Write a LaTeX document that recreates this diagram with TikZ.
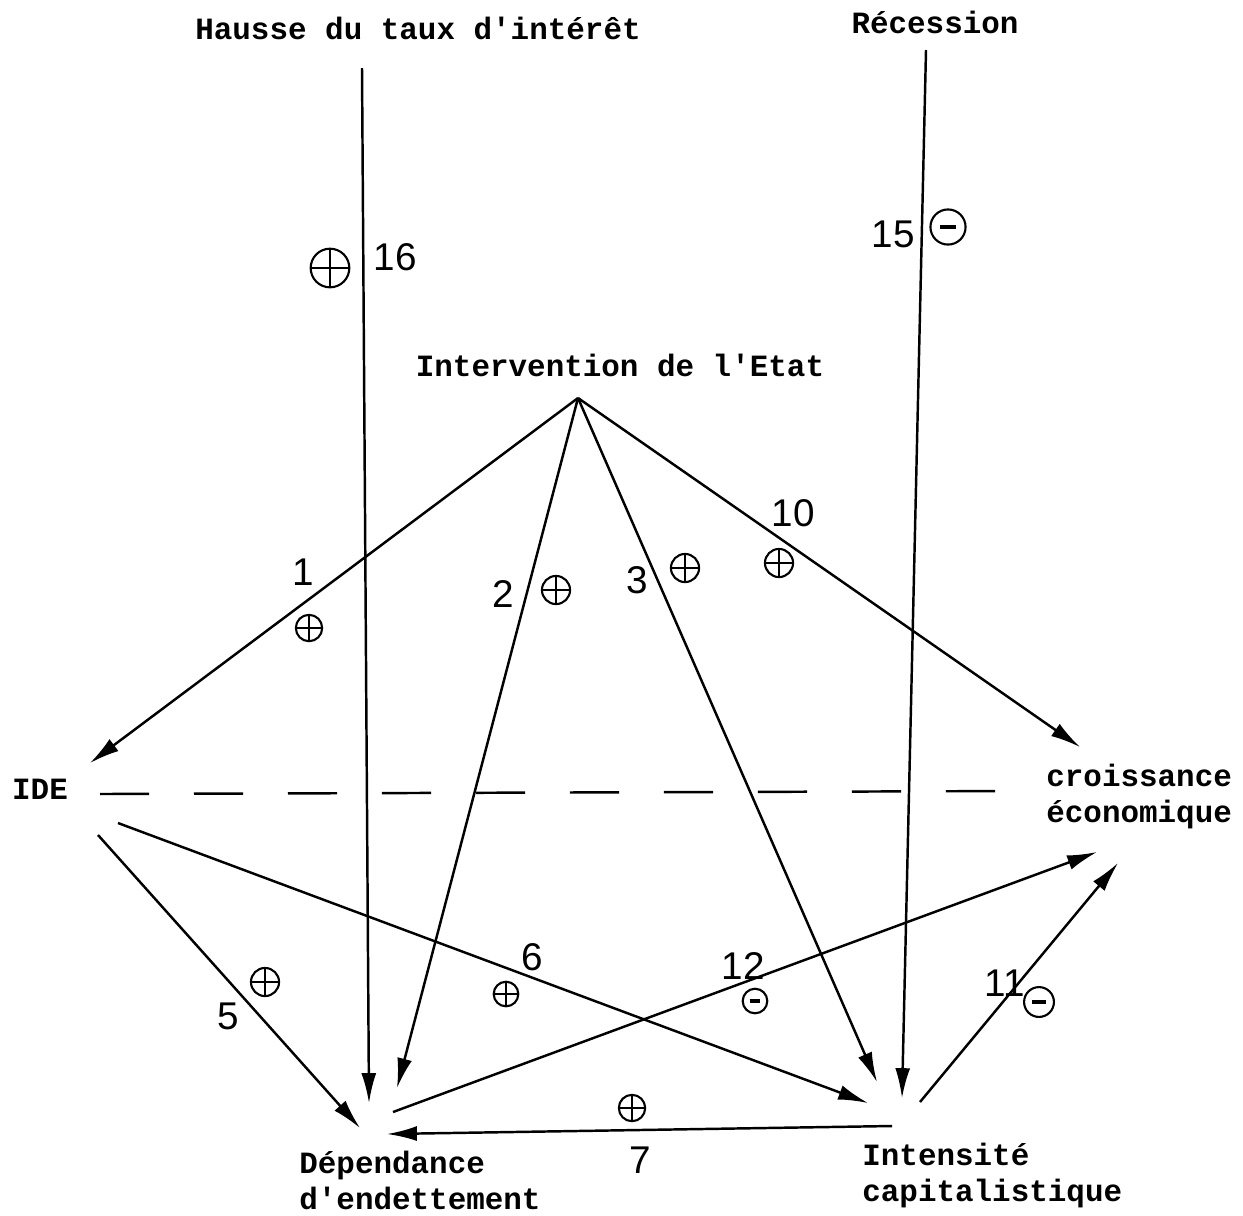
\documentclass[tikz,border=0pt]{standalone}
\usepackage{fontspec}
\newfontfamily\tw{Liberation Mono}
\newfontfamily\hw{Liberation Sans}
\usetikzlibrary{arrows.meta,calc}
\begin{document}
\begin{tikzpicture}[x=0.02cm,y=-0.02cm,
  lbl/.style={font=\tw\bfseries\fontsize{17.6}{20.5}\selectfont, inner sep=0pt},
  hand/.style={font=\hw\fontsize{22}{24}\selectfont, inner sep=0pt},
  arr/.style={line width=1.4pt, -{Latex[length=17pt,width=8.5pt]}},
  ln/.style={line width=1.4pt},
  plus/.style={circle, draw, line width=1.2pt, minimum size=#1, inner sep=0pt,
    path picture={\draw[line width=1.2pt]
      (path picture bounding box.north) -- (path picture bounding box.south)
      (path picture bounding box.west) -- (path picture bounding box.east);}},
  minus/.style={circle, draw, line width=1.2pt, minimum size=#1, inner sep=0pt,
    path picture={\draw[line width=2.2pt]
      ($(path picture bounding box.west)!0.28!(path picture bounding box.east)$) --
      ($(path picture bounding box.west)!0.72!(path picture bounding box.east)$);}}
]
\useasboundingbox (0,0) rectangle (1243,1215);

% text nodes
\node[lbl] (hausse) at (418,28) {Hausse du taux d\textquotesingle intérêt};
\node[lbl] (recession) at (935,22) {Récession};
\node[lbl] (etatlbl) at (620,365) {Intervention de l\textquotesingle Etat};
\node[lbl] (ide) at (40,789) {IDE};
\node[lbl, align=left, anchor=west] (croiss) at (1046,796) {croissance\\économique};
\node[lbl, align=left, anchor=west] (dep) at (299,1180) {Dépendance\\d\textquotesingle endettement};
\node[lbl, align=left, anchor=west] (intens) at (862,1175) {Intensité\\capitalistique};

% connector end points
\coordinate (etat) at (578,398);
\coordinate (top16) at (362,68);
\coordinate (top15) at (926,50);
\coordinate (ideIn) at (90,763);
\coordinate (ideOut5) at (98,835);
\coordinate (ideOut6) at (118,823);
\coordinate (croIn10) at (1080,747);
\coordinate (croIn12) at (1097,852);
\coordinate (croIn11) at (1118,863);
\coordinate (depIn16) at (369,1103);
\coordinate (depIn2) at (397,1088);
\coordinate (depIn5) at (360,1128);
\coordinate (depOut12) at (393,1112);
\coordinate (depIn7) at (387,1134);
\coordinate (intIn6) at (868,1103);
\coordinate (intIn3) at (877,1082);
\coordinate (intIn15) at (902,1098);
\coordinate (intOut11) at (920,1102);
\coordinate (intOut7) at (892,1126);
\coordinate (dashL) at (100,794);
\coordinate (dashR) at (1022,791);

% vertical influences
\draw[arr] (top16) -- (depIn16);
\draw[arr] (top15) -- (intIn15);

% from the state
\draw[arr] (etat) -- (ideIn);
\draw[arr] (etat) -- (depIn2);
\draw[arr] (etat) -- (intIn3);
\draw[arr] (etat) -- (croIn10);

% dashed link
\draw[ln, dash pattern=on 28pt off 25.5pt] (dashL) -- (dashR);

% lower arrows
\draw[arr] (ideOut5) -- (depIn5);
\draw[arr] (ideOut6) -- (intIn6);
\draw[arr] (depOut12) -- (croIn12);
\draw[arr] (intOut11) -- (croIn11);
\draw[arr] (intOut7) -- (depIn7);

% handwritten numbers
\node[hand] (n16) at (395,257) {16};
\node[hand] (n15) at (893,234) {15};
\node[hand] (n1) at (303,572) {1};
\node[hand] (n2) at (503,594) {2};
\node[hand] (n3) at (637,580) {3};
\node[hand] (n10) at (793,513) {10};
\node[hand] (n5) at (228,1016) {5};
\node[hand] (n6) at (532,957) {6};
\node[hand] (n12) at (743,966) {12};
\node[hand] (n11) at (1005,983) {11};
\node[hand] (n7) at (640,1160) {7};

% circled signs
\node[plus=22pt] (s16) at (330,268) {};
\node[minus=20pt] (s15) at (948,227) {};
\node[plus=15pt] (s1) at (309,628) {};
\node[plus=16pt] (s2) at (556,590) {};
\node[plus=16pt] (s3) at (685,568) {};
\node[plus=16pt] (s10) at (779,563) {};
\node[plus=16pt] (s5) at (265,982) {};
\node[plus=14pt] (s6) at (506,994) {};
\node[minus=14pt] (s12) at (755,1001) {};
\node[minus=17pt] (s11) at (1039,1002) {};
\node[plus=15pt] (s7) at (632,1108) {};
\end{tikzpicture}
\end{document}
